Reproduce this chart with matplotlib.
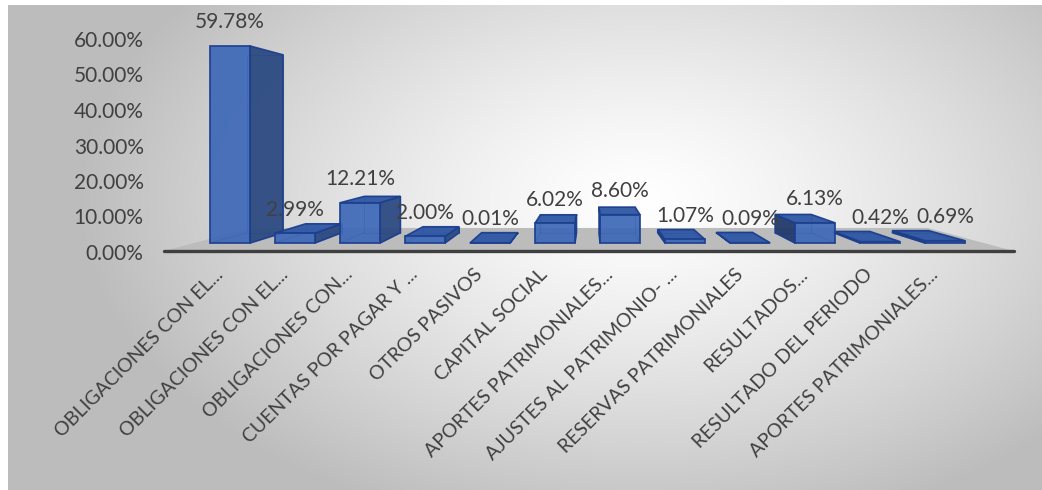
import numpy as np
import matplotlib
matplotlib.use('Agg')
import matplotlib.pyplot as plt
from matplotlib.patches import Polygon
import matplotlib.transforms as mtransforms

plt.rcParams['font.family'] = ['Lato', 'DejaVu Sans']

# data
categorias = [
    'OBLIGACIONES CON EL...',
    'OBLIGACIONES CON EL...',
    'OBLIGACIONES CON...',
    'CUENTAS POR PAGAR Y ...',
    'OTROS PASIVOS',
    'CAPITAL SOCIAL',
    'APORTES PATRIMONIALES...',
    'AJUSTES AL PATRIMONIO- ...',
    'RESERVAS PATRIMONIALES',
    'RESULTADOS...',
    'RESULTADO DEL PERIODO',
    'APORTES PATRIMONIALES...',
]
porcentajes = [59.78, 2.99, 12.21, 2.00, 0.01, 6.02, 8.60, 1.07, 0.09, 6.13, 0.42, 0.69]
y_ticks = [0, 10, 20, 30, 40, 50, 60]

W, H = 1042, 490
fig = plt.figure(figsize=(W / 100, H / 100), dpi=100)
fig.patch.set_facecolor('white')

# fondo con degradado radial (gris en bordes, blanco al centro)
bg = fig.add_axes([8 / W, 0, 1 - 8 / W, 1 - 5 / H])
gx, gy = np.meshgrid(np.linspace(8, W, 400), np.linspace(5, H, 200))
r = np.sqrt(((gx - 640) / 560) ** 2 + ((gy - 200) / 340) ** 2)
g = 1 - 0.26 * np.clip(r, 0, 1) ** 1.3
bg.imshow(np.dstack([g, g, g]), aspect='auto', extent=[0, 1, 0, 1])
bg.set_axis_off()

# ejes de las barras
ax = fig.add_axes([152 / W, 1 - 256.2 / H, 877.5 / W, 230.7 / H])
ax.set_xlim(-1.2, 12.3)
ax.set_ylim(-4, 66)
ax.patch.set_alpha(0)
for s in ax.spines.values():
    s.set_visible(False)
ax.set_yticks([])

vx, vy = 5.54, 32.2   # punto de fuga
k = 0.097             # profundidad de las barras
kf = 0.199            # profundidad del piso
w = 0.615

front_c = '#3d68b7'
side_c = '#2c4a82'
top_c = '#2e57a3'
edge_c = '#1c3f8e'

def atras(x, y, kk=k):
    return x + kk * (vx - x), y + kk * (vy - y)

# piso
fy = -2.3
fx0, fx1 = -0.99, 12.03
b0 = atras(fx0, fy, kf)
b1 = atras(fx1, fy, kf)
ax.add_patch(Polygon([(fx0, fy), (fx1, fy), b1, b0], closed=True,
                     facecolor='#bcbcbc', edgecolor='none', zorder=1))
ax.plot([fx0 - 0.03, fx1 + 0.03], [fy - 0.15, fy - 0.15], color='#3f3f3f',
        lw=2.4, solid_capstyle='round', zorder=2)

xs = np.arange(len(porcentajes))
for i, v in zip(xs, porcentajes):
    x0, x1 = i - w / 2, i + w / 2
    # aristas ocultas (se ven a traves del cristal)
    bb0 = atras(x0, 0); bb1 = atras(x1, 0); bt0 = atras(x0, v); bt1 = atras(x1, v)
    ax.plot([bb0[0], bb1[0], bt1[0], bt0[0], bb0[0]],
            [bb0[1], bb1[1], bt1[1], bt0[1], bb0[1]],
            color=edge_c, lw=0.8, alpha=0.6, zorder=3)
    ax.plot([x0, bb0[0]], [0, bb0[1]], color=edge_c, lw=0.8, alpha=0.6, zorder=3)
    ax.plot([x1, bb1[0]], [0, bb1[1]], color=edge_c, lw=0.8, alpha=0.6, zorder=3)
    if x1 < vx:
        ax.add_patch(Polygon([(x1, 0), (x1, v), bt1, bb1], closed=True,
                             facecolor=side_c, edgecolor=edge_c, lw=1.2,
                             alpha=0.95, zorder=4))
    if x0 > vx:
        ax.add_patch(Polygon([(x0, 0), (x0, v), bt0, bb0], closed=True,
                             facecolor='#223a6c', edgecolor=edge_c, lw=1.2,
                             alpha=0.95, zorder=4))
    if v < vy:
        ax.add_patch(Polygon([(x0, v), (x1, v), bt1, bt0], closed=True,
                             facecolor=top_c, edgecolor=edge_c, lw=1.2,
                             alpha=0.95, zorder=5))

ax.bar(xs, porcentajes, width=w, color=front_c, edgecolor=edge_c,
       linewidth=1.3, alpha=0.92, zorder=6)

for i, v in zip(xs, porcentajes):
    ax.annotate(f'{v:.2f}%', (i, v), xytext=(0, 17), textcoords='offset points',
                ha='center', va='center', fontsize=15, color='#404040', zorder=8)

ax.set_xticks(xs)
ax.set_xticklabels(categorias, rotation=45, ha='right', va='center',
                   rotation_mode='anchor', fontsize=14, color='#404040')
ax.tick_params(axis='x', length=0, pad=11)
off = mtransforms.ScaledTranslation(-10 / 100, 0, fig.dpi_scale_trans)
for lbl in ax.get_xticklabels():
    lbl.set_transform(lbl.get_transform() + off)

# eje de valores
axl = fig.add_axes([152 / W, 1 - 252 / H, 0.05, 213 / H])
axl.set_ylim(0, 60)
axl.set_yticks(y_ticks)
axl.set_yticklabels([f'{t:.2f}%' for t in y_ticks], fontsize=15, color='#404040')
axl.tick_params(axis='y', length=0, pad=6)
axl.set_xticks([])
axl.patch.set_alpha(0)
for s in axl.spines.values():
    s.set_visible(False)

fig.savefig('out.png', dpi=100)
